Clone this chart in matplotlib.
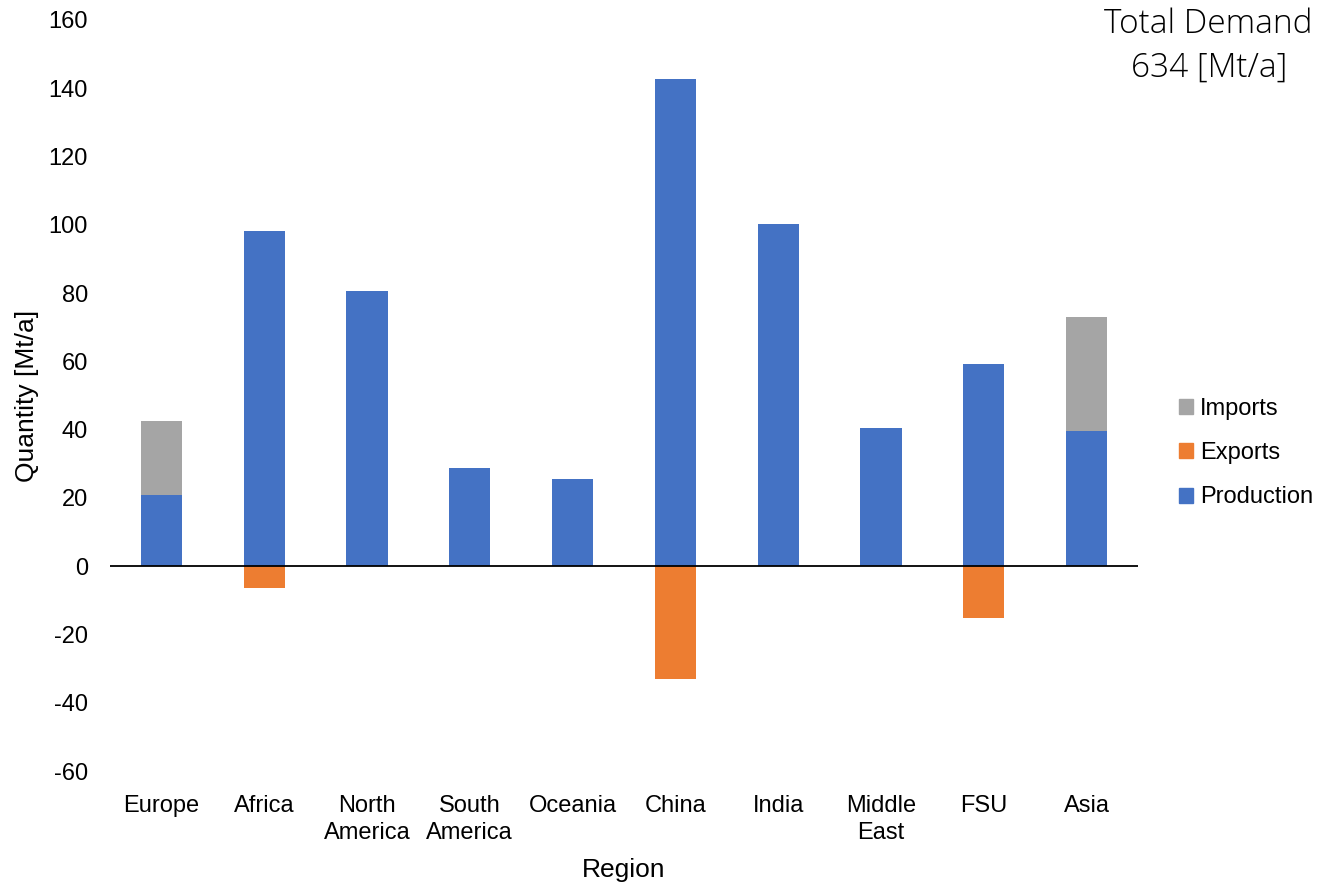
import matplotlib
matplotlib.use("Agg")
import matplotlib.pyplot as plt
from matplotlib.patches import Patch

regions = ["Europe", "Africa", "North\nAmerica", "South\nAmerica", "Oceania",
           "China", "India", "Middle\nEast", "FSU", "Asia"]
production = [20.8, 98.2, 80.6, 28.7, 25.5, 142.7, 100.2, 40.4, 59.2, 39.6]
imports = [21.7, 0, 0, 0, 0, 0, 0, 0, 0, 33.4]
exports = [0, -6.4, 0, 0, 0, -33.1, 0, 0, -15.2, 0]
yticks = [-60, -40, -20, 0, 20, 40, 60, 80, 100, 120, 140, 160]

c_prod = "#4472C4"
c_exp = "#ED7D31"
c_imp = "#A5A5A5"

plt.rcParams['font.family'] = ['Liberation Sans', 'DejaVu Sans']

fig = plt.figure(figsize=(13.17, 8.84), dpi=100)
ax = fig.add_axes([110/1317, 1-771/884, (1138-110)/1317, (771-20)/884])

x = list(range(len(regions)))
w = 0.4
ax.bar(x, production, width=w, color=c_prod, zorder=2)
ax.bar(x, imports, width=w, bottom=production, color=c_imp, zorder=2)
ax.bar(x, exports, width=w, color=c_exp, zorder=2)
ax.axhline(0, color="black", lw=1.3, zorder=3)

ax.set_xlim(-0.5, len(regions) - 0.5)
ax.set_ylim(-60, 160)
ax.set_yticks(yticks)
ax.set_yticklabels([str(v) for v in yticks])
ax.set_xticks(x)
ax.set_xticklabels(regions, linespacing=1.3)
for s in ax.spines.values():
    s.set_visible(False)
ax.tick_params(axis="both", length=0, labelsize=17)
ax.tick_params(axis="y", pad=16)
ax.tick_params(axis="x", pad=17)
fig.text(27/1317, 1-396/884, "Quantity [Mt/a]", fontsize=19, rotation=90,
         ha="center", va="center")
fig.text(624/1317, 1-870/884, "Region", fontsize=19, ha="center", va="center")

fig.text(1313/1317, 1-46/884, "Total Demand\n634 [Mt/a]", fontsize=24,
         ha="right", va="center", family=["Open Sans", "DejaVu Sans"],
         fontweight="light", multialignment="center", linespacing=1.4)

handles = [Patch(color=c_imp, label="Imports"),
           Patch(color=c_exp, label="Exports"),
           Patch(color=c_prod, label="Production")]
fig.legend(handles=handles, loc="center left", bbox_to_anchor=(1172/1317, 1-453/884),
           frameon=False, fontsize=17, handlelength=0.6, handleheight=0.6,
           handletextpad=0.3, labelspacing=0.95, borderaxespad=0, borderpad=0.3)

fig.savefig("out.png", dpi=100)
